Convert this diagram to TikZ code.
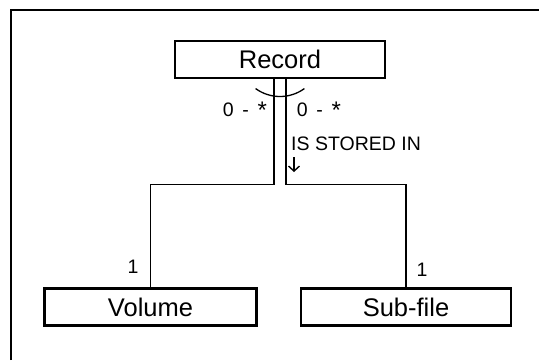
\documentclass[tikz,border=0pt]{standalone}
\usepackage{fontspec}
\setmainfont{Liberation Sans}
\usetikzlibrary{arrows.meta}

\tikzset{
  entity/.style={draw, line width=2.8pt, minimum width=210pt, minimum height=37pt, inner sep=0pt, font=\fontsize{25.5}{28}\selectfont},
  link/.style={line width=1.3pt},
  lbl/.style={inner sep=0pt, font=\fontsize{19.5}{22}\selectfont}
}

\begin{document}
\begin{tikzpicture}[x=1pt,y=1pt,yscale=-1]
\useasboundingbox (0,0) rectangle (539,360);

%Frame
\draw[line width=1.8pt] (11,360) -- (11,10) -- (539,10);

% Entity boxes
\node[entity] (rec) at (280,59.5) {Record};
\node[entity, minimum width=212pt] (vol) at (150.5,307) {Volume};
\node[entity] (sub) at (406,307) {Sub-file};

%Straight Lines
\draw[link] ([xshift=-6pt]rec.south) -- ++(0,105) -| (vol.north);
\draw[link] ([xshift=6pt]rec.south) -- ++(0,105) -| (sub.north);

%Shape: Arc
\draw[link] (280,55) ++(126:41.5) arc[start angle=126, end angle=54, radius=41.5];

% Text Node
\node[lbl] (mleft) at (245,110) {0\ \,-\ \,\raisebox{-2pt}{\fontsize{24}{24}\selectfont *}};
% Text Node
\node[lbl] (mright) at (319,110) {0\ \,-\ \,\raisebox{-2pt}{\fontsize{24}{24}\selectfont *}};
% Text Node
\node[lbl, anchor=west] (role) at (291,143.5) {IS STORED IN};
% Text Node
\node[lbl] (one1) at (133,267) {1};
% Text Node
\node[lbl] (one2) at (422,270) {1};

% direction of reading
\coordinate (dtop) at (294,157);
\coordinate (dbot) at (294,172);
\draw[line width=1.4pt, -{Straight Barb[length=5pt, width=11pt]}] (dtop) -- (dbot);

\end{tikzpicture}
\end{document}
